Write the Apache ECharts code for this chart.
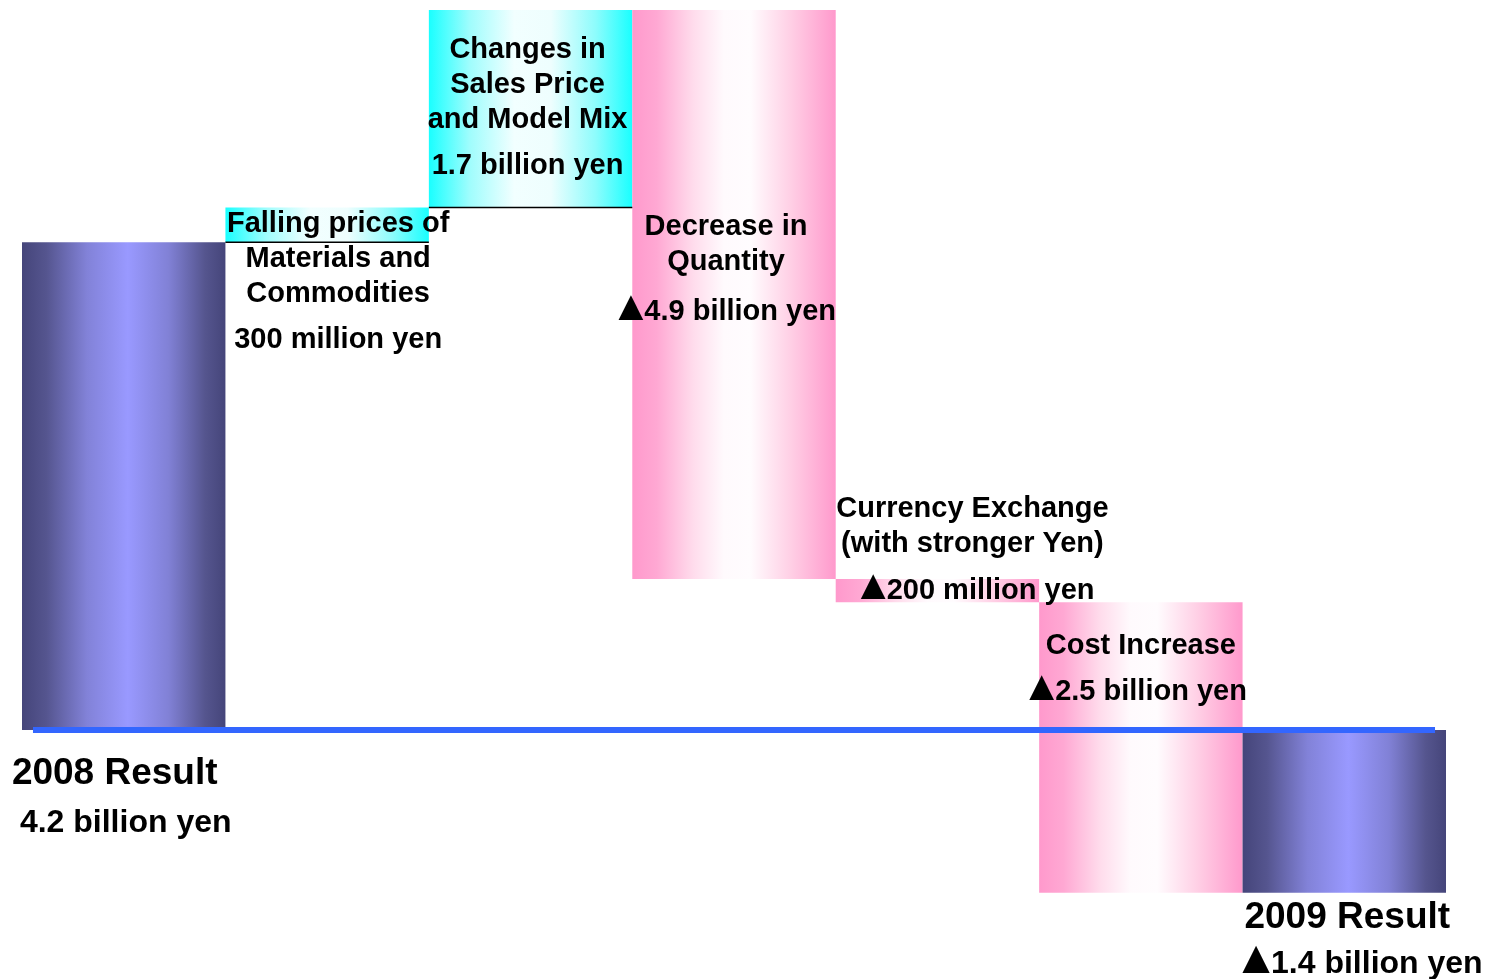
<!DOCTYPE html>
<html>
<head>
<meta charset="utf-8">
<script src="https://cdn.jsdelivr.net/npm/echarts@6/dist/echarts.min.js"></script>
<style>
  html, body { margin: 0; padding: 0; background: #ffffff; }
  #chart { width: 1488px; height: 979px; }
</style>
</head>
<body>
<div id="chart"></div>
<script>
// Operating income bridge, 2008 -> 2009 (billion yen)
const categories = [
  '2008 Result',
  'Falling prices of Materials and Commodities',
  'Changes in Sales Price and Model Mix',
  'Decrease in Quantity',
  'Currency Exchange (with stronger Yen)',
  'Cost Increase',
  '2009 Result'
];
const kinds = ['total', 'increase', 'increase', 'decrease', 'decrease', 'decrease', 'total'];
const amounts = [4.2, 0.3, 1.7, -4.9, -0.2, -2.5, -1.4];
const titleLines = [
  ['2008 Result'],
  ['Falling prices of', 'Materials and', 'Commodities'],
  ['Changes in', 'Sales Price', 'and Model Mix'],
  ['Decrease in', 'Quantity'],
  ['Currency Exchange', '(with stronger Yen)'],
  ['Cost Increase'],
  ['2009 Result']
];
const valueLabels = [
  '4.2 billion yen',
  '300 million yen',
  '1.7 billion yen',
  '\u25B24.9 billion yen',
  '\u25B2200 million yen',
  '\u25B22.5 billion yen',
  '\u25B21.4 billion yen'
];

// Floating ranges: totals stand on zero, changes continue from the running total
let running = 0;
const ranges = amounts.map((v, i) => {
  if (kinds[i] === 'total') { running = v; return [0, v]; }
  const from = running;
  running += v;
  return [from, running];
});
const barData = ranges.map((r, i) => [i, Math.min(r[0], r[1]), Math.max(r[0], r[1])]);

// Label placement: pixel offsets from the bar centre and from an edge
// (title offset = centre of the first title line)
const labelLayout = [
  { anchor: 'zero',   title: [-9, 44],  value: [2, 93],   big: true },
  { anchor: 'top',    title: [11, 17],  value: [11, 133] },
  { anchor: 'top',    title: [-3, 40],  value: [-3, 156] },
  { anchor: 'top',    title: [-8, 217], value: [-7, 302] },
  { anchor: 'top',    title: [35, -70], value: [40, 12] },
  { anchor: 'top',    title: [0, 44],   value: [-3, 90] },
  { anchor: 'bottom', title: [3, 25],   value: [18, 71],  big: true }
];

const G = echarts.graphic.LinearGradient;
const fills = {
  total: new G(0, 0, 1, 0, [
    { offset: 0, color: '#45457a' },
    { offset: 0.12, color: '#55558f' },
    { offset: 0.32, color: '#8282d8' },
    { offset: 0.52, color: '#9999ff' },
    { offset: 0.72, color: '#8181d6' },
    { offset: 0.9, color: '#55558e' },
    { offset: 1, color: '#45457a' }
  ]),
  increase: new G(0, 0, 1, 0, [
    { offset: 0, color: '#19ffff' },
    { offset: 0.2, color: '#9ffdfd' },
    { offset: 0.42, color: '#f2ffff' },
    { offset: 0.6, color: '#eefefe' },
    { offset: 0.82, color: '#8dfcfc' },
    { offset: 1, color: '#19ffff' }
  ]),
  decrease: new G(0, 0, 1, 0, [
    { offset: 0, color: '#ff99cc' },
    { offset: 0.12, color: '#ffa8d3' },
    { offset: 0.3, color: '#ffdcec' },
    { offset: 0.45, color: '#fffafd' },
    { offset: 0.58, color: '#fffcfe' },
    { offset: 0.78, color: '#ffcfe5' },
    { offset: 1, color: '#ff99cc' }
  ])
};

const FONT = '"Liberation Sans", Arial, Helvetica, sans-serif';
const TRI = '\u25B2';

// Text measuring (same 'middle' baseline that zrender uses for single lines)
const measureCtx = document.createElement('canvas').getContext('2d');
function measure(text, size) {
  measureCtx.font = 'bold ' + size + 'px ' + FONT;
  measureCtx.textBaseline = 'middle';
  return measureCtx.measureText(text);
}

function textEl(text, x, y, size, align) {
  return {
    type: 'text', x, y, z2: 100,
    style: {
      text, fontFamily: FONT, fontWeight: 'bold', fontSize: size,
      fill: '#000000', align, verticalAlign: 'middle'
    }
  };
}

// Value line centred on (cx, cy); a leading triangle (negative mark) is drawn
// larger than the digits, standing on their baseline and packed against them
function valueEls(label, cx, cy, size) {
  if (label.charAt(0) !== TRI) return [textEl(label, cx, cy, size, 'center')];
  const rest = label.slice(1);
  const restW = measure(rest, size).width;
  const digit = measure('0', size);
  const triW = size * 0.86;
  const ref = measure(TRI, 100);
  const triSize = 100 * triW / (ref.actualBoundingBoxLeft + ref.actualBoundingBoxRight);
  const tri = measure(TRI, triSize);
  const gap = size * 0.05;
  const left = cx - (triW + gap + restW) / 2;
  const triY = cy + digit.actualBoundingBoxDescent - tri.actualBoundingBoxDescent;
  return [
    textEl(TRI, left + tri.actualBoundingBoxLeft, triY, triSize, 'left'),
    textEl(rest, left + triW + gap, cy, size, 'left')
  ];
}

function renderItem(params, api) {
  const i = params.dataIndex;
  const x = api.value(0);
  const lo = api.value(1);
  const hi = api.value(2);
  const pTop = api.coord([x, hi]);
  const pBot = api.coord([x, lo]);
  const pZero = api.coord([x, 0]);
  const w = api.size([1, 0])[0];
  const cx = pTop[0];
  const left = cx - w / 2;

  const children = [{
    type: 'rect',
    shape: { x: left, y: pTop[1], width: w, height: pBot[1] - pTop[1] },
    style: { fill: fills[kinds[i]] },
    z2: 1
  }];
  if (kinds[i] === 'increase') {
    children.push({
      type: 'line',
      shape: { x1: left, y1: pBot[1], x2: left + w, y2: pBot[1] },
      style: { stroke: '#000000', lineWidth: 1.5 },
      z2: 2
    });
  }

  const L = labelLayout[i];
  const anchorY = L.anchor === 'top' ? pTop[1] : (L.anchor === 'bottom' ? pBot[1] : pZero[1]);
  const titleSize = L.big ? 37 : 29;
  const titleLH = L.big ? 44 : 35;
  const valueSize = L.big ? 32 : 29;

  children.push({
    type: 'text',
    x: cx + L.title[0],
    y: anchorY + L.title[1] - titleLH / 2,
    z2: 100,
    style: {
      text: titleLines[i].join('\n'),
      fontFamily: FONT,
      fontWeight: 'bold',
      fontSize: titleSize,
      lineHeight: titleLH,
      fill: '#000000',
      align: 'center',
      verticalAlign: 'top'
    }
  });
  valueEls(valueLabels[i], cx + L.value[0], anchorY + L.value[1], valueSize)
    .forEach(el => children.push(el));
  return { type: 'group', children };
}

const chart = echarts.init(document.getElementById('chart'), null, { renderer: 'canvas' });
chart.setOption({
  animation: false,
  backgroundColor: '#ffffff',
  grid: { left: 22, right: 42, top: 10, bottom: 16.6 },
  xAxis: { type: 'value', min: -0.5, max: 6.5, show: false },
  yAxis: { type: 'value', min: -2, max: 6.2, show: false },
  series: [{
    type: 'custom',
    name: 'Operating income change',
    renderItem: renderItem,
    encode: { x: 0, y: [1, 2] },
    data: barData,
    markLine: {
      silent: true,
      symbol: 'none',
      label: { show: false },
      lineStyle: { color: '#3366ff', width: 6, type: 'solid' },
      data: [[{ coord: [-0.446, 0] }, { coord: [6.446, 0] }]]
    }
  }]
});
</script>
</body>
</html>
